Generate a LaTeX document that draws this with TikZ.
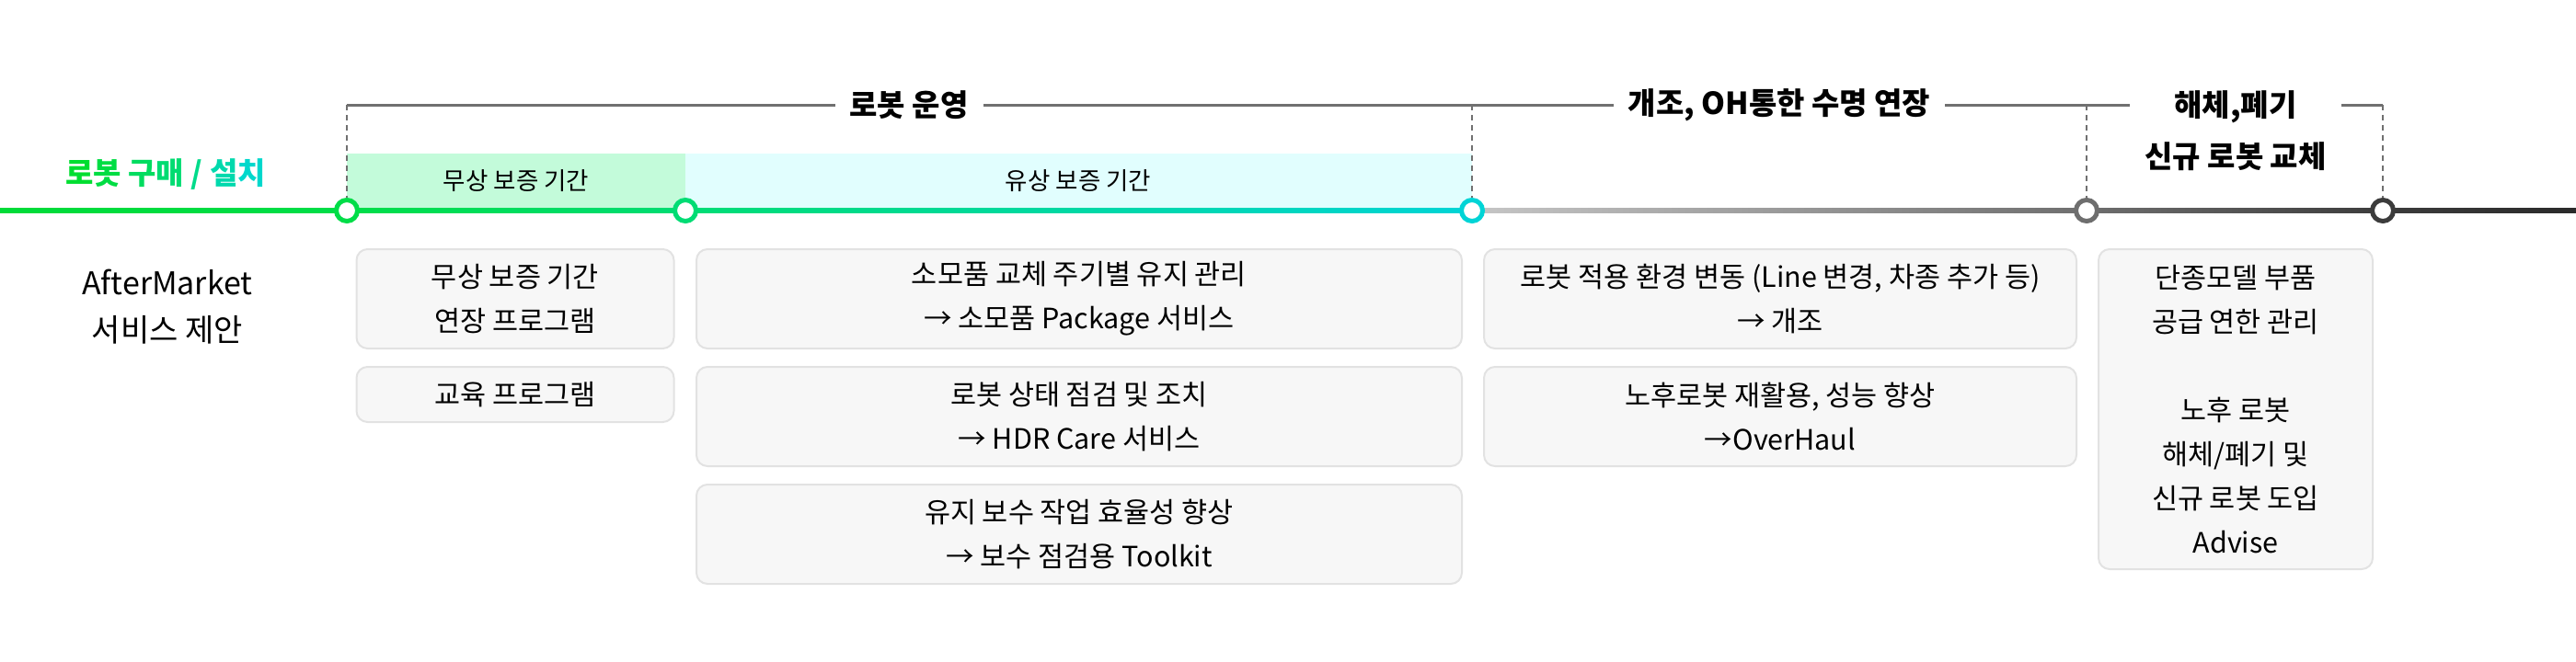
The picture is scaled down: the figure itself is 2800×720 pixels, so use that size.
\documentclass[tikz,border=0pt]{standalone}
\usepackage{fontspec}
\setmainfont{Noto Sans CJK KR}
\usepackage{xcolor}
\usepackage{tikz}
\usetikzlibrary{positioning,calc,backgrounds}

\definecolor{buyA}{HTML}{00DE30}
\definecolor{buyB}{HTML}{00D8CC}
\definecolor{tlgreen}{HTML}{00DB38}
\definecolor{tlgreenB}{HTML}{00DD48}
\definecolor{tlmint}{HTML}{00DC74}
\definecolor{tlcyan}{HTML}{00D4D6}
\definecolor{tlgrayA}{HTML}{C6C6C6}
\definecolor{tlgrayB}{HTML}{6E6E6E}
\definecolor{tlgrayC}{HTML}{3C3C3C}
\definecolor{tlgrayD}{HTML}{2A2A2A}
\definecolor{bandfree}{HTML}{C3FBDA}
\definecolor{bandpaid}{HTML}{E1FEFE}
\definecolor{boxfill}{HTML}{F7F7F7}
\definecolor{boxline}{HTML}{E2E2E2}
\definecolor{guidegray}{HTML}{707070}

\begin{document}
\begin{tikzpicture}[x=1pt,y=-1pt,node distance=18pt]
	\tikzstyle{every node}=[font=\fontsize{30.5}{48}\selectfont, text=black]
	\tikzstyle{stop}=[circle, fill=white, line width=5pt, minimum size=23pt, inner sep=0pt]
	\tikzstyle{svc}=[draw=boxline, line width=2pt, fill=boxfill, rounded corners=12pt, align=center, inner sep=0pt]
	\tikzstyle{phase}=[fill=white, inner xsep=16pt, inner ysep=4pt, align=center, font=\fontsize{33}{56}\selectfont\bfseries]
	\tikzstyle{bandtxt}=[font=\fontsize{26.5}{30}\selectfont]
	\tikzstyle{bracket}=[guidegray, line width=3pt]
	\tikzstyle{guide}=[guidegray, line width=2pt, dash pattern=on 6pt off 5pt]
	
	\useasboundingbox (0,0) rectangle (2800,720);
	
	\coordinate (tl0) at (0,229);
	\coordinate (tl6) at (2800,229);
	\node[stop, draw=tlgreenB](c1) at (377,229){};
	\node[stop, draw=tlmint](c2) at (745,229){};
	\node[stop, draw=tlcyan](c3) at (1600,229){};
	\node[stop, draw=tlgrayB](c4) at (2268,229){};
	\node[stop, draw=tlgrayC](c5) at (2590,229){};
	
	\begin{scope}[on background layer]
	\fill[bandfree] ([yshift=62pt]c1.center) rectangle (c2.center);
	\fill[bandpaid] ([yshift=62pt]c2.center) rectangle (c3.center);
	\shade[left color=tlgreen, right color=tlgreenB] ([yshift=2.7pt]tl0) rectangle ([yshift=-2.7pt]c1.center);
	\shade[left color=tlgreenB, right color=tlmint] ([yshift=2.7pt]c1.center) rectangle ([yshift=-2.7pt]c2.center);
	\shade[left color=tlmint, right color=tlcyan] ([yshift=2.7pt]c2.center) rectangle ([yshift=-2.7pt]c3.center);
	\shade[left color=tlgrayA, right color=tlgrayB] ([yshift=2.7pt]c3.center) rectangle ([yshift=-2.7pt]c4.center);
	\shade[left color=tlgrayB, right color=tlgrayC] ([yshift=2.7pt]c4.center) rectangle ([yshift=-2.7pt]c5.center);
	\shade[left color=tlgrayC, right color=tlgrayD] ([yshift=2.7pt]c5.center) rectangle ([yshift=-2.7pt]tl6);
	\end{scope}
	
	\node[bandtxt](freeband) at (561,197){무상 보증 기간};
	\node[bandtxt](paidband) at (1172,197){유상 보증 기간};
	
	\coordinate (tA) at (377,114);
	\coordinate (tB) at (2590,114);
	\draw[bracket] (tA) -- (tB);
	\node[phase](run) at (988,114){로봇 운영};
	\node[phase](oh) at (1934,114){개조, OH통한 수명 연장};
	\node[phase](retire) at (2430,142){해체,폐기\\신규 로봇 교체};
	
	\draw[guide] (c1 |- tA) -- (c1);
	\draw[guide] (c3 |- tA) -- (c3);
	\draw[guide] (c4 |- tA) -- (c4);
	\draw[guide] (c5 |- tA) -- (c5);
	
	\node[font=\fontsize{33}{40}\selectfont\bfseries](buy) at (180,190){\textcolor{buyA}{로}\textcolor{buyA!88!buyB}{봇} \textcolor{buyA!70!buyB}{구}\textcolor{buyA!58!buyB}{매} \textcolor{buyA!42!buyB}{/} \textcolor{buyA!20!buyB}{설}\textcolor{buyB}{치}};
	\node[font=\fontsize{34}{51}\selectfont, align=center](am) at (182,334){AfterMarket\\서비스 제안};
	
	\node[svc, minimum width=345pt, minimum height=108pt, anchor=north](free1) at (560,270){무상 보증 기간\\연장 프로그램};
	\node[svc, minimum width=345pt, minimum height=60pt](free2)[below=of free1]{교육 프로그램};
	
	\node[svc, minimum width=832pt, minimum height=108pt, anchor=north](paid1) at (1173,270){소모품 교체 주기별 유지 관리\\→ 소모품 Package 서비스};
	\node[svc, minimum width=832pt, minimum height=108pt](paid2)[below=of paid1]{로봇 상태 점검 및 조치\\→ HDR Care 서비스};
	\node[svc, minimum width=832pt, minimum height=108pt](paid3)[below=of paid2]{유지 보수 작업 효율성 향상\\→ 보수 점검용 Toolkit};
	
	\node[svc, minimum width=644pt, minimum height=108pt, anchor=north](oh1) at (1935,270){로봇 적용 환경 변동 (Line 변경, 차종 추가 등)\\→ 개조};
	\node[svc, minimum width=644pt, minimum height=108pt](oh2)[below=of oh1]{노후로봇 재활용, 성능 향상\\→OverHaul};
	
	\node[svc, minimum width=298pt, minimum height=348pt, anchor=north](end1) at (2430,270){단종모델 부품\\공급 연한 관리\\[48pt]노후 로봇\\해체/폐기 및\\신규 로봇 도입\\Advise};
\end{tikzpicture}
\end{document}
